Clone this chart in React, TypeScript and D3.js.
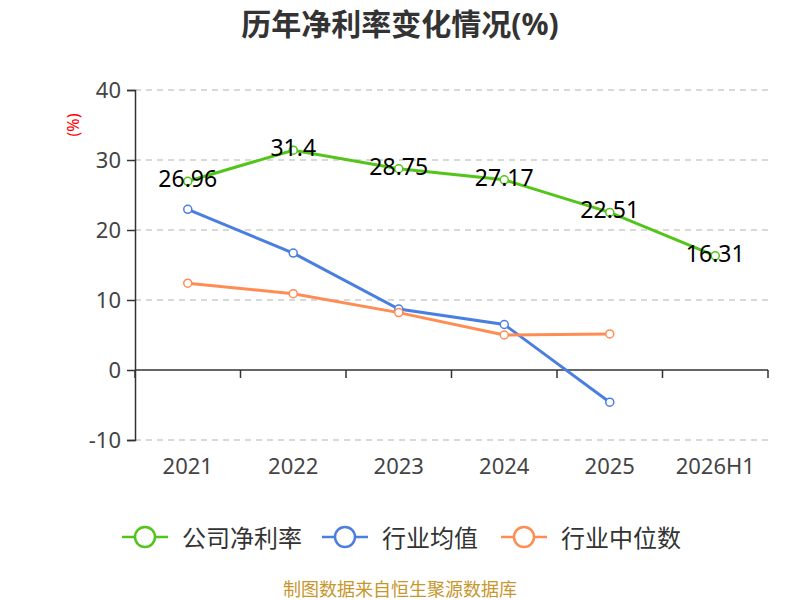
import { useRef, useEffect } from "react";
import * as d3 from "d3";

const categories = ["2021", "2022", "2023", "2024", "2025", "2026H1"];
const companyRate = [26.96, 31.4, 28.75, 27.17, 22.51, 16.31];
const industryAvg = [22.95, 16.7, 8.7, 6.5, -4.6];
const industryMedian = [12.4, 10.9, 8.2, 5.0, 5.15];
const yTicks = [-10, 0, 10, 20, 30, 40];

const seriesList = [
  { name: "公司净利率", color: "#52c41a", values: companyRate, legendX: 145 },
  { name: "行业均值", color: "#4a7fe0", values: industryAvg, legendX: 345 },
  { name: "行业中位数", color: "#ff8c55", values: industryMedian, legendX: 524 },
];

const W = 800;
const H = 600;
const margin = { top: 90, right: 32, bottom: 160, left: 135 };

export default function App() {
  const svgRef = useRef<SVGSVGElement>(null);

  useEffect(() => {
    if (!svgRef.current) return;
    const svg = d3.select(svgRef.current);
    svg.selectAll("*").remove();

    const innerW = W - margin.left - margin.right;
    const innerH = H - margin.top - margin.bottom;
    const font = "'Noto Sans', 'Noto Sans CJK SC', sans-serif";

    const x = d3.scaleBand<string>().domain(categories).range([0, innerW]);
    const y = d3.scaleLinear().domain([-10, 40]).range([innerH, 0]);
    const cx = (i: number) => (x(categories[i]) ?? 0) + x.bandwidth() / 2;

    // Title
    svg.append("text")
      .attr("x", W / 2)
      .attr("y", 23)
      .attr("text-anchor", "middle")
      .attr("dominant-baseline", "central")
      .attr("font-family", font)
      .attr("font-size", "30px")
      .attr("font-weight", "bold")
      .attr("fill", "#333")
      .text("历年净利率变化情况(%)");

    const g = svg.append("g").attr("transform", `translate(${margin.left},${margin.top})`);

    // Grid lines
    g.append("g")
      .selectAll("line")
      .data(yTicks.filter(d => d !== 0))
      .join("line")
      .attr("x1", 0)
      .attr("x2", innerW)
      .attr("y1", d => y(d))
      .attr("y2", d => y(d))
      .attr("stroke", "#ccc")
      .attr("stroke-width", 1.5)
      .attr("stroke-dasharray", "6,5");

    // Y axis
    g.append("g")
      .call(d3.axisLeft(y).tickValues(yTicks).tickSize(8).tickPadding(6).tickFormat(d => `${d}`))
      .call(a => a.select(".domain").attr("stroke", "#333").attr("stroke-width", 1.5))
      .call(a => a.selectAll(".tick line").attr("stroke", "#333").attr("stroke-width", 1.5))
      .call(a => a.selectAll(".tick text")
        .attr("fill", "#444")
        .attr("font-size", "22px")
        .attr("font-family", font));

    // X axis at zero
    const xAxis = g.append("g").attr("transform", `translate(0,${y(0)})`);
    xAxis.append("line")
      .attr("x1", 0)
      .attr("x2", innerW)
      .attr("stroke", "#333")
      .attr("stroke-width", 1.5);
    xAxis.selectAll("line.tk")
      .data(d3.range(categories.length + 1))
      .join("line")
      .attr("class", "tk")
      .attr("x1", i => i * x.step())
      .attr("x2", i => i * x.step())
      .attr("y1", 0)
      .attr("y2", 8)
      .attr("stroke", "#333")
      .attr("stroke-width", 1.5);

    g.append("g")
      .selectAll("text")
      .data(categories)
      .join("text")
      .attr("x", (_, i) => cx(i))
      .attr("y", y(-10) + 25)
      .attr("text-anchor", "middle")
      .attr("dominant-baseline", "central")
      .attr("fill", "#444")
      .attr("font-size", "22px")
      .attr("font-family", font)
      .text(d => d);

    // Y axis unit
    g.append("text")
      .attr("transform", `translate(-62,${y(35)}) rotate(-90)`)
      .attr("text-anchor", "middle")
      .attr("dominant-baseline", "central")
      .attr("fill", "red")
      .attr("font-size", "16px")
      .attr("font-family", font)
      .text("(%)");

    // Series
    seriesList.forEach(s => {
      const line = d3.line<number>()
        .x((_, i) => cx(i))
        .y(d => y(d));
      g.append("path")
        .datum(s.values)
        .attr("fill", "none")
        .attr("stroke", s.color)
        .attr("stroke-width", 3)
        .attr("d", line);
      g.append("g")
        .selectAll("circle")
        .data(s.values)
        .join("circle")
        .attr("cx", (_, i) => cx(i))
        .attr("cy", d => y(d))
        .attr("r", 4)
        .attr("fill", "#fff")
        .attr("stroke", s.color)
        .attr("stroke-width", 1.5);
    });

    // Value labels
    g.append("g")
      .selectAll("text")
      .data(companyRate)
      .join("text")
      .attr("x", (_, i) => cx(i))
      .attr("y", d => y(d) - 3)
      .attr("text-anchor", "middle")
      .attr("dominant-baseline", "central")
      .attr("fill", "#000")
      .attr("font-size", "23px")
      .attr("font-family", font)
      .text(d => `${d}`);

    // Legend
    const lg = svg.append("g").attr("transform", "translate(0,537)");
    seriesList.forEach(s => {
      lg.append("line")
        .attr("x1", s.legendX - 23)
        .attr("x2", s.legendX + 23)
        .attr("stroke", s.color)
        .attr("stroke-width", 2.5);
      lg.append("circle")
        .attr("cx", s.legendX)
        .attr("r", 10)
        .attr("fill", "#fff")
        .attr("stroke", s.color)
        .attr("stroke-width", 2.5);
      lg.append("text")
        .attr("x", s.legendX + 37)
        .attr("dominant-baseline", "central")
        .attr("fill", "#333")
        .attr("font-size", "24px")
        .attr("font-family", font)
        .text(s.name);
    });

    // Footer
    svg.append("text")
      .attr("x", W / 2)
      .attr("y", 589)
      .attr("text-anchor", "middle")
      .attr("dominant-baseline", "central")
      .attr("fill", "#c8962c")
      .attr("font-size", "18px")
      .attr("font-family", font)
      .text("制图数据来自恒生聚源数据库");
  }, []);

  return (
    <svg
      ref={svgRef}
      width={W}
      height={H}
      viewBox={`0 0 ${W} ${H}`}
      style={{ position: "absolute", left: 0, top: 0, background: "#fff" }}
    />
  );
}
